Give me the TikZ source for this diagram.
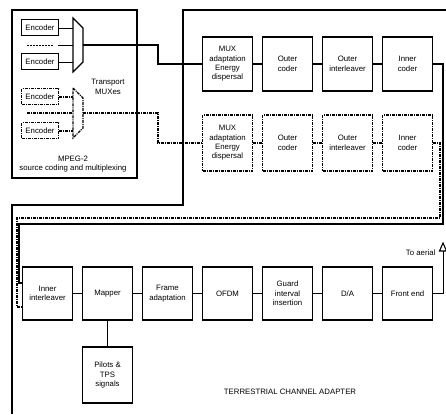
\documentclass[tikz,border=0pt]{standalone}
\usepackage{fontspec}
\setmainfont{Liberation Sans}
\usetikzlibrary{calc}
\tikzset{
  x=1pt, y=-1pt,
  font=\fontsize{7.8}{9.4}\selectfont,
  blk/.style={
    draw, line width=1.2pt, align=center, inner sep=1pt,
    minimum width=50pt, minimum height=54pt
  },
  dblk/.style={blk, dash pattern=on 3pt off 1pt on 1pt off 1pt},
  enc/.style={
    draw, line width=1pt, inner sep=0pt,
    minimum width=37pt, minimum height=16pt
  },
  denc/.style={enc, dash pattern=on 3pt off 1pt on 1pt off 1pt},
  link/.style={line width=1.3pt},
  dlink/.style={line width=1.1pt, dash pattern=on 3pt off 1pt on 1pt off 1pt},
  thinlink/.style={line width=0.9pt},
  framing/.style={line width=1.2pt}
}
\begin{document}
\begin{tikzpicture}
  \useasboundingbox (0,0) rectangle (446,414);
  % frames
  \draw[framing,line width=1.4pt] (12,10) rectangle (137,178);
  \draw[framing] (12,414) -- (12,205) -- (183,205) -- (183,10) -- (446,10);

  % MPEG-2 source coding
  \node[enc] (e1) at (40,28) {Encoder};
  \node[enc] (e2) at (40,62) {Encoder};
  \node[denc] (e3) at (40,97) {Encoder};
  \node[denc] (e4) at (40,131) {Encoder};
  \coordinate (tmA) at (73,45);
  \coordinate (tmAout) at (83,45);
  \coordinate (tmB) at (73,113);
  \coordinate (tmBout) at (83,113);
  \draw[thinlink,line width=1.1pt] (73,18) -- (83,28) -- (83,62) -- (73,72) -- cycle;
  \draw[dlink] (73,88) -- (83,98) -- (83,128) -- (73,138) -- cycle;
  \draw[thinlink] (e1.east) -- (e1.east -| tmA);
  \draw[thinlink] (e2.east) -- (e2.east -| tmA);
  \draw[dlink] (e3.east) -- (e3.east -| tmB);
  \draw[dlink] (e4.east) -- (e4.east -| tmB);
  \coordinate (dotA) at (27,45);
  \coordinate (dotB) at (27,113);
  \draw[thinlink,dash pattern=on 2pt off 1pt] (dotA) -- ++(26,0);
  \draw[thinlink] ($(dotA)+(31,0)$) -- (tmA);
  \draw[dlink] (dotB) -- (tmB);
  \node[align=center] (tmux) at (108,87) {Transport\\MUXes};
  \node[align=center] (mpeg) at (73,164) {MPEG-2\\source coding and multiplexing};

  % channel coder, path 1 and path 2
  \node[blk] (mux1) at (227.5,64) {MUX\\adaptation\\Energy\\dispersal};
  \node[blk] (oc1) at (287.5,64) {Outer\\coder};
  \node[blk] (oi1) at (347.5,64) {Outer\\interleaver};
  \node[blk] (ic1) at (407.5,64) {Inner\\coder};
  \node[dblk,minimum height=56pt] (mux2) at (227.5,143) {MUX\\adaptation\\Energy\\dispersal};
  \node[dblk,minimum height=56pt] (oc2) at (287.5,143) {Outer\\coder};
  \node[dblk,minimum height=56pt] (oi2) at (347.5,143) {Outer\\interleaver};
  \node[dblk,minimum height=56pt] (ic2) at (407.5,143) {Inner\\coder};
  \foreach \a/\b in {mux1/oc1, oc1/oi1, oi1/ic1} \draw[link] (\a) -- (\b);
  \foreach \a/\b in {mux2/oc2, oc2/oi2, oi2/ic2} \draw[dlink] (\a) -- (\b);
  \draw[link] (tmAout) -- ++(75,0) |- (mux1.west);
  \draw[dlink] (tmBout) -- ++(75,0) |- (mux2.west);

  % terrestrial channel adapter
  \node[blk,minimum height=53pt] (ii) at (47.5,293.5) {Inner\\interleaver};
  \node[blk,minimum height=53pt] (map) at (107.5,293.5) {Mapper};
  \node[blk,minimum height=53pt] (fa) at (167.5,293.5) {Frame\\adaptation};
  \node[blk,minimum height=53pt] (ofdm) at (227.5,293.5) {OFDM};
  \node[blk,minimum height=53pt] (gi) at (287.5,293.5) {Guard\\interval\\insertion};
  \node[blk,minimum height=53pt] (da) at (347.5,293.5) {D/A};
  \node[blk,minimum height=53pt] (fe) at (407.5,293.5) {Front end};
  \node[blk,minimum height=56pt] (pil) at (107.5,375) {Pilots \&\\TPS\\signals};
  \foreach \a/\b in {ii/map, map/fa, fa/ofdm, ofdm/gi, gi/da, da/fe} \draw[link] (\a) -- (\b);
  \draw[thinlink] (map) -- (pil);

  % inner coders to inner interleaver
  \draw[link] (ic1.east) -| (443,224) -| (19,283) -- (ii.west |- 19,283);
  \draw[dlink] (ic2.east) -| (440,218) -| (17,307) -- (ii.west |- 17,307);

  % aerial
  \coordinate (aerial) at (443,251);
  \draw[thinlink] (fe.east) -| (aerial);
  \draw[thinlink,line width=1.1pt] (aerial) -- ++(-3.5,0) -- ++(3.5,-8) -- ++(3.5,8) -- cycle;
  \node[anchor=east] (toaer) at (439,253) {To aerial};
  \node (tca) at (290,392) {TERRESTRIAL CHANNEL ADAPTER};
\end{tikzpicture}
\end{document}
